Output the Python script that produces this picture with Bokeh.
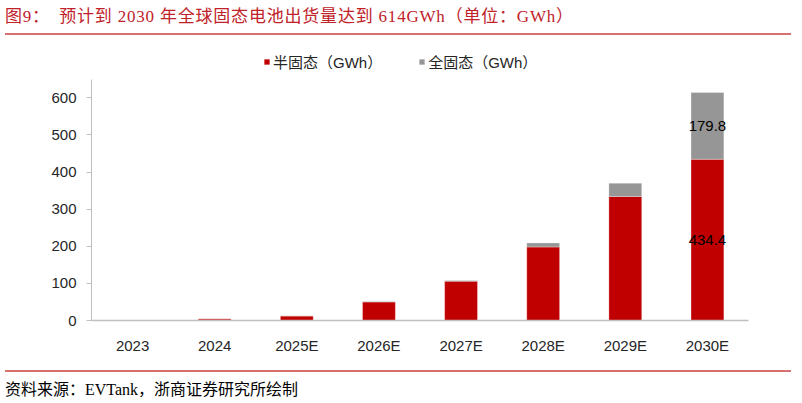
from bokeh.plotting import figure
from bokeh.models import Div, FixedTicker, Legend, ColumnDataSource, FactorRange, Range1d
from bokeh.layouts import column
from bokeh.embed import file_html
from bokeh.resources import INLINE
from bokeh.core.properties import value

years = ["2023", "2024", "2025E", "2026E", "2027E", "2028E", "2029E", "2030E"]
semi = [1, 4.5, 12, 50, 106, 198, 334, 434.4]
full = [0, 0, 0.5, 1, 2, 11, 36, 179.8]
series_names = ["半固态（GWh）", "全固态（GWh）"]
y_ticks = [0, 100, 200, 300, 400, 500, 600]
title_text = "图9：　预计到 2030 年全球固态电池出货量达到 614GWh（单位：GWh）"
source_text = "资料来源：EVTank，浙商证券研究所绘制"

FONT = "Liberation Sans, Noto Sans CJK SC"
RED = "#C00000"
GRAY = "#969696"

src = ColumnDataSource(data=dict(year=years, semi=semi, full=full))

p = figure(x_range=FactorRange(*years, range_padding=0), y_range=Range1d(0, 730),
           width=786, height=325, output_backend="svg", toolbar_location=None,
           min_border_left=91, min_border_right=38, min_border_bottom=45, min_border_top=9)

r = p.vbar_stack(["semi", "full"], x="year", width=0.4, source=src,
                 color=[RED, GRAY], line_color="white", line_width=0.5,
                 line_alpha=0.6)

legend = Legend(items=[(series_names[0], [r[0]]), (series_names[1], [r[1]])],
                orientation="horizontal", location=(172, 248),
                label_text_font=FONT, label_text_font_size="15px",
                label_text_color="#262626", glyph_width=7, glyph_height=7,
                spacing=36, label_standoff=3, border_line_color=None,
                background_fill_alpha=0, margin=0, padding=2)
p.add_layout(legend, "center")

# data labels for the last year
lab = ColumnDataSource(data=dict(
    x=[years[-1], years[-1]],
    y=[semi[-1] / 2, semi[-1] + full[-1] / 2],
    t=[f"{semi[-1]:.1f}", f"{full[-1]:.1f}"]))
p.text(x="x", y="y", text="t", source=lab, text_align="center",
       text_baseline="middle", text_font=value("Liberation Sans"),
       text_font_size="15px", text_color="#000000")

p.xgrid.grid_line_color = None
p.ygrid.grid_line_color = None
p.outline_line_color = None

p.yaxis.ticker = FixedTicker(ticks=y_ticks)
p.yaxis.bounds = (0, 650)
p.yaxis.minor_tick_line_color = None
p.yaxis.major_tick_out = 5
p.yaxis.major_tick_in = 0
p.yaxis.major_tick_line_color = "#BFBFBF"
p.yaxis.axis_line_color = "#BFBFBF"
p.yaxis.major_label_standoff = 10
p.xaxis.axis_line_color = "#BFBFBF"
p.xaxis.axis_line_width = 1.5
p.xaxis.major_tick_line_color = None
p.xaxis.major_label_standoff = 10
for ax in (p.xaxis, p.yaxis):
    ax.major_label_text_font = FONT
    ax.major_label_text_font_size = "15px"
    ax.major_label_text_color = "#262626"

title = Div(text=title_text, width=786, height=30,
            styles={"font-family": "Liberation Serif, Noto Sans CJK SC",
                    "font-size": "17px", "color": "#C0222A",
                    "letter-spacing": "0.8px",
                    "border-bottom": "2px solid #D87070",
                    "line-height": "24px", "box-sizing": "border-box"})
footer = Div(text=source_text, width=786, height=30,
             styles={"font-family": "Liberation Serif, Noto Sans CJK SC",
                     "font-size": "16px", "color": "#000000",
                     "border-top": "2px solid #D87070",
                     "padding-top": "7px", "margin-top": "5px",
                     "box-sizing": "border-box"})

layout = column(title, p, footer, spacing=0)
open("out.html", "w").write(file_html(layout, INLINE))
